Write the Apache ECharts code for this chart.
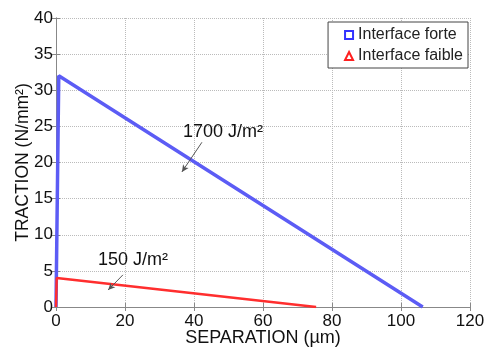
<!DOCTYPE html>
<html><head><meta charset="utf-8">
<script src="https://cdn.jsdelivr.net/npm/echarts@6/dist/echarts.min.js"></script>
<style>html,body{margin:0;padding:0;background:#fff}#c{width:485px;height:347px}</style>
</head><body><div id="c"></div>
<script>
const seriesNames = ['Interface forte', 'Interface faible'];
const forteX = [0, 0.8, 106.3];
const forteY = [0, 32.0, 0];
const faibleX = [0, 0.2, 75.4];
const faibleY = [0, 4.0, 0];
const xTicks = [0, 20, 40, 60, 80, 100, 120];
const yTicks = [0, 5, 10, 15, 20, 25, 30, 35, 40];
const annoText = ['1700 J/m²', '150 J/m²'];
const annoTextPos = [[36.8, 24.2], [12.2, 6.5]];
const annoArrowFrom = [[42.3, 22.8], [19.4, 4.45]];
const annoArrowTo = [[36.5, 18.7], [15.1, 2.35]];

const zip = (xs, ys) => xs.map((x, i) => [x, ys[i]]);
const font = 'Liberation Sans, Arial, sans-serif';
const chart = echarts.init(document.getElementById('c'));
const axisCommon = {
  axisLine: {show: true, lineStyle: {color: '#888', width: 1}},
  axisTick: {show: true, inside: true, length: 4, lineStyle: {color: '#888'}},
};
chart.setOption({
  animation: false,
  grid: {left: 56, right: 15, top: 18, bottom: 40, containLabel: false, outerBoundsMode: 'none'},
  legend: {
    data: [
      {name: seriesNames[0], icon: 'rect'},
      {name: seriesNames[1], icon: 'triangle'}
    ],
    orient: 'vertical', right: 17, top: 22,
    itemWidth: 8, itemHeight: 8, itemGap: 5,
    padding: [5, 5, 4, 16],
    backgroundColor: '#fff', borderColor: '#444', borderWidth: 1,
    textStyle: {fontFamily: font, fontSize: 16, color: '#222', lineHeight: 16}
  },
  xAxis: [{
    type: 'value', min: 0, max: 120, interval: 20,
    name: 'SEPARATION (µm)', nameLocation: 'middle', nameGap: 22, nameMoveOverlap: false,
    nameTextStyle: {fontFamily: font, fontSize: 18, color: '#111'},
    axisLabel: {fontFamily: font, fontSize: 17, color: '#111', margin: 6},
    splitLine: {show: true, lineStyle: {color: '#bbb', type: 'dotted'}},
    ...axisCommon
  }, {
    type: 'value', min: 0, max: 120, interval: 20, position: 'top',
    axisLabel: {show: false}, splitLine: {show: false}, ...axisCommon
  }],
  yAxis: [{
    type: 'value', min: 0, max: 40, interval: 5,
    name: 'TRACTION (N/mm²)', nameLocation: 'middle', nameGap: 24, nameMoveOverlap: false,
    nameTextStyle: {fontFamily: font, fontSize: 17.5, color: '#111'},
    axisLabel: {fontFamily: font, fontSize: 17, color: '#111', margin: 3},
    splitLine: {show: true, lineStyle: {color: '#bbb', type: 'dotted'}},
    ...axisCommon
  }, {
    type: 'value', min: 0, max: 40, interval: 5, position: 'right',
    axisLabel: {show: false}, splitLine: {show: false}, ...axisCommon
  }],
  series: [
    {
      name: seriesNames[0], type: 'line', data: zip(forteX, forteY),
      showSymbol: false, symbol: 'rect',
      itemStyle: {color: '#fff', borderColor: '#3333ff', borderWidth: 1.5},
      lineStyle: {color: '#5c5cf5', width: 3.5}
    },
    {
      name: seriesNames[1], type: 'line', data: zip(faibleX, faibleY),
      showSymbol: false, symbol: 'triangle',
      itemStyle: {color: '#fff', borderColor: '#ff2020', borderWidth: 1.5},
      lineStyle: {color: '#ff2e2e', width: 2.5}
    },
    {
      name: 'anno', type: 'scatter', data: [], silent: true,
      markLine: {
        silent: true, symbol: ['none', 'arrow'], symbolSize: [5, 7],
        lineStyle: {color: '#555', width: 1, type: 'solid'},
        label: {show: false},
        data: annoArrowFrom.map((f, i) => [{coord: f}, {coord: annoArrowTo[i]}])
      },
      markPoint: {
        silent: true, symbol: 'circle', symbolSize: 0,
        label: {show: true, position: 'right', distance: 0, fontFamily: font, fontSize: 18, color: '#111',
          formatter: p => p.name},
        data: annoText.map((t, i) => ({name: t, coord: annoTextPos[i]}))
      }
    }
  ]
});
</script></body></html>
